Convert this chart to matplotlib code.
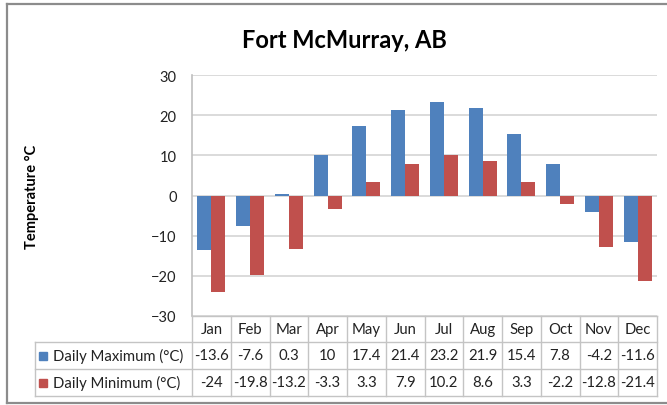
import matplotlib
matplotlib.use("Agg")
import matplotlib.pyplot as plt
import matplotlib.transforms as mtransforms
from matplotlib.patches import Rectangle
from matplotlib.lines import Line2D
import numpy as np

plt.rcParams['font.family'] = ['Lato', 'DejaVu Sans']

# Monthly temperature normals
months = ['Jan', 'Feb', 'Mar', 'Apr', 'May', 'Jun', 'Jul', 'Aug', 'Sep', 'Oct', 'Nov', 'Dec']
daily_max = [-13.6, -7.6, 0.3, 10, 17.4, 21.4, 23.2, 21.9, 15.4, 7.8, -4.2, -11.6]
daily_min = [-24, -19.8, -13.2, -3.3, 3.3, 7.9, 10.2, 8.6, 3.3, -2.2, -12.8, -21.4]
series_names = ['Daily Maximum (°C)', 'Daily Minimum (°C)']
colors = ['#4F81BD', '#C0504D']

W, H = 667, 406


def fx(px):
    return px / W


def fy(px):
    return 1 - px / H


fig = plt.figure(figsize=(W / 100, H / 100), dpi=100)
ax = fig.add_axes([fx(192), fy(317), (657 - 192) / W, (317 - 76) / H])

x = np.arange(len(months))
bw = 0.36
ax.bar(x - bw / 2, daily_max, bw, color=colors[0], zorder=3)
ax.bar(x + bw / 2, daily_min, bw, color=colors[1], zorder=3)

ax.set_xlim(-0.5, len(months) - 0.5)
ax.set_ylim(-30, 30)
ax.set_yticks(range(-30, 31, 10))
ax.set_xticks([])
ax.tick_params(axis='y', length=0, pad=11, labelsize=10.5, labelcolor='#222222')
ax.yaxis.grid(True, color='#d4d4d4', lw=1.2, zorder=0)
for s in ['top', 'right', 'bottom']:
    ax.spines[s].set_visible(False)
ax.spines['left'].set_color('#bfbfbf')
ax.spines['left'].set_linewidth(1.2)

ax.set_ylabel('Temperature °C', fontsize=10.5, fontweight='bold')
ax.yaxis.set_label_coords(-0.329, 0.5)

# data table under the plot: columns follow the x axis, rows in figure pixels
tr = mtransforms.blended_transform_factory(ax.transData, fig.transFigure)
grid_c = '#c4c4c4'
rows_y = [317, 343, 370, 397]
for edge in np.arange(len(months) + 1) - 0.5:
    fig.lines.append(Line2D([edge, edge], [fy(317), fy(397)], transform=tr, color=grid_c, lw=1.0))
for yy in rows_y[1:]:
    fig.lines.append(Line2D([fx(35), fx(657)], [fy(yy), fy(yy)], transform=fig.transFigure, color=grid_c, lw=1.0))
fig.lines.append(Line2D([fx(35), fx(35)], [fy(343), fy(397)], transform=fig.transFigure, color=grid_c, lw=1.0))
fig.lines.append(Line2D([fx(192), fx(657)], [fy(317), fy(317)], transform=fig.transFigure, color=grid_c, lw=1.0))

for i, m in enumerate(months):
    ax.text(i, fy(330), m, transform=tr, ha='center', va='center', fontsize=10.7, color='#222222')
for r, vals in enumerate([daily_max, daily_min]):
    yc = (rows_y[r + 1] + rows_y[r + 2]) / 2
    for i, v in enumerate(vals):
        ax.text(i, fy(yc), f'{v:g}', transform=tr, ha='center', va='center', fontsize=10.7, color='#222222')
    fig.text(fx(53), fy(yc), series_names[r], ha='left', va='center', fontsize=10.7, color='#222222')
    fig.patches.append(Rectangle((fx(39), fy(yc + 4)), 8 / W, 8 / H,
                                 transform=fig.transFigure, color=colors[r]))

fig.text(fx(344), fy(40), 'Fort McMurray, AB', ha='center', va='center',
         fontsize=17, fontweight='bold')

# chart area frame
fc = '#8c8c8c'
fig.lines.append(Line2D([fx(7), fx(7)], [fy(404), fy(5)], transform=fig.transFigure, color=fc, lw=1.6))
fig.lines.append(Line2D([fx(7), 1], [fy(5), fy(5)], transform=fig.transFigure, color=fc, lw=1.6))
fig.lines.append(Line2D([fx(7), 1], [fy(404), fy(404)], transform=fig.transFigure, color=fc, lw=1.6))

fig.savefig('out.png', dpi=100)
